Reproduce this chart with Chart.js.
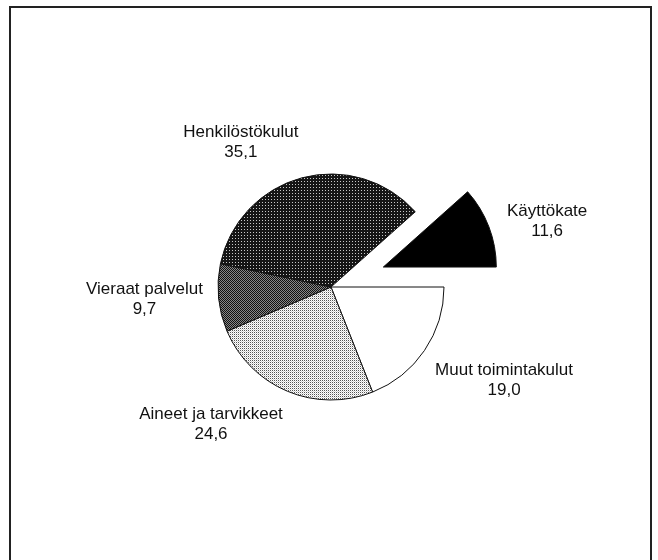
<!DOCTYPE html>
<html>
<head>
<meta charset="utf-8">
<script src="https://cdn.jsdelivr.net/npm/chart.js@4"></script>
<style>
  html, body { margin: 0; padding: 0; background: #fff; overflow: hidden; }
  #frame { position: absolute; left: 9px; top: 6px; width: 639px; height: 620px; border: 2px solid #222; }
  #wrap { position: absolute; left: 0; top: 0; width: 658px; height: 560px; }
</style>
</head>
<body>
<div id="frame"></div>
<div id="wrap"><canvas id="pieChart" width="658" height="560"></canvas></div>
<script>
// slices, clockwise from 3 o'clock
const categories = ['Muut toimintakulut', 'Aineet ja tarvikkeet', 'Vieraat palvelut', 'Henkilöstökulut', 'Käyttökate'];
const shares = [19.0, 24.6, 9.7, 35.1, 11.6];
const valueLabels = ['19,0', '24,6', '9,7', '35,1', '11,6'];
const exploded = [0, 0, 0, 0, 56];

// label nudges relative to the automatic placement
const labelNudge = [[6, 7], [-41, -4], [4, -3], [-41, 3], [2, 9]];

function makePattern(size, bg, pixels) {
  const c = document.createElement('canvas');
  c.width = size;
  c.height = size;
  const g = c.getContext('2d');
  g.fillStyle = bg;
  g.fillRect(0, 0, size, size);
  pixels.forEach(([x, y, col]) => {
    g.fillStyle = col;
    g.fillRect(x, y, 1, 1);
  });
  return document.getElementById('pieChart').getContext('2d').createPattern(c, 'repeat');
}

const fills = [
  '#ffffff',
  makePattern(2, '#ffffff', [[0, 0, '#555'], [1, 1, '#d0d0d0']]),
  makePattern(2, '#888888', [[0, 0, '#111'], [1, 1, '#111']]),
  makePattern(3, '#151515', [[1, 1, '#c8c8c8']]),
  '#000000'
];

const explodePlugin = {
  id: 'explode',
  afterDatasetsUpdate(chart) {
    const arcs = chart.getDatasetMeta(0).data;
    arcs.forEach((arc, i) => {
      const d = exploded[i] || 0;
      if (!d) return;
      const mid = (arc.startAngle + arc.endAngle) / 2;
      arc.x += Math.cos(mid) * d;
      arc.y += Math.sin(mid) * d;
    });
  }
};

const labelPlugin = {
  id: 'sliceLabels',
  afterDraw(chart) {
    const ctx = chart.ctx;
    const arcs = chart.getDatasetMeta(0).data;
    ctx.save();
    ctx.font = '17px "Liberation Sans", Arial, sans-serif';
    ctx.fillStyle = '#111';
    ctx.textAlign = 'center';
    ctx.textBaseline = 'middle';
    const lineH = 20;
    arcs.forEach((arc, i) => {
      const mid = (arc.startAngle + arc.endAngle) / 2;
      const cos = Math.cos(mid);
      const sin = Math.sin(mid);
      const w = ctx.measureText(categories[i]).width;
      const r = arc.outerRadius + 20;
      const cx = arc.x + cos * r + cos * w / 2 + labelNudge[i][0];
      const cy = arc.y + sin * r + sin * lineH + labelNudge[i][1];
      ctx.fillText(categories[i], cx, cy - lineH / 2);
      ctx.fillText(valueLabels[i], cx, cy + lineH / 2);
    });
    ctx.restore();
  }
};

new Chart(document.getElementById('pieChart'), {
  type: 'pie',
  data: {
    labels: categories,
    datasets: [
      {
        data: shares,
        backgroundColor: fills,
        borderColor: '#111',
        borderWidth: 1
      }
    ]
  },
  options: {
    responsive: false,
    animation: false,
    rotation: 90,
    radius: 113,
    layout: { padding: { left: 4, top: 14 } },
    plugins: {
      legend: { display: false },
      tooltip: { enabled: false }
    }
  },
  plugins: [explodePlugin, labelPlugin]
});
</script>
</body>
</html>
